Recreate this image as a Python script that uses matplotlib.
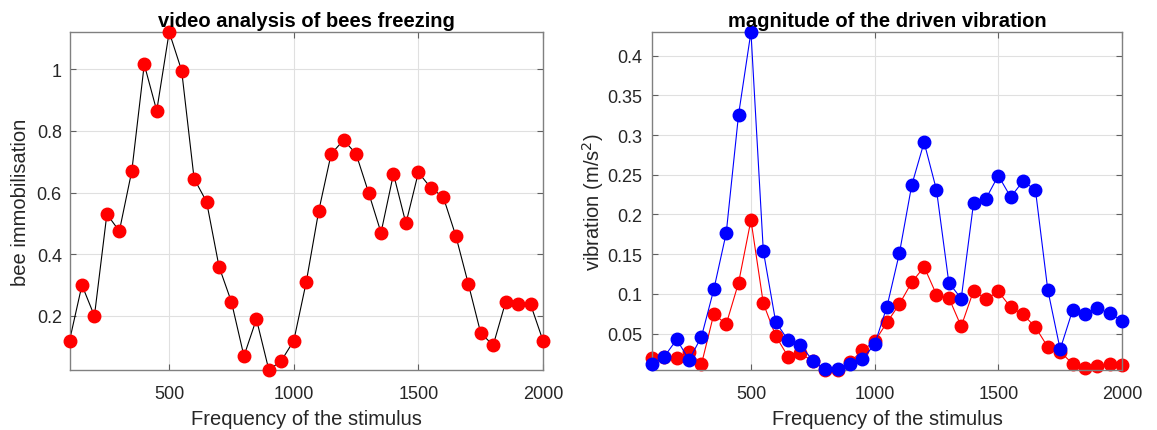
import matplotlib
matplotlib.use("Agg")
import matplotlib.pyplot as plt
import numpy as np

plt.rcParams['font.family'] = ['Liberation Sans', 'DejaVu Sans']

freq = list(range(100, 2001, 50))

immobilisation = [0.12, 0.30, 0.20, 0.53, 0.475, 0.67, 1.015, 0.865, 1.12, 0.995,
                  0.645, 0.57, 0.36, 0.245, 0.07, 0.19, 0.025, 0.055, 0.12, 0.31,
                  0.54, 0.725, 0.77, 0.725, 0.60, 0.47, 0.66, 0.50, 0.665, 0.615,
                  0.585, 0.46, 0.305, 0.145, 0.105, 0.245, 0.24, 0.238, 0.12]

vib_blue = [0.0114, 0.021, 0.0425, 0.0166, 0.046, 0.1057, 0.1765, 0.326, 0.430, 0.154,
            0.0647, 0.0416, 0.0358, 0.0157, 0.005, 0.005, 0.0114, 0.0177, 0.0362, 0.084,
            0.151, 0.237, 0.291, 0.231, 0.114, 0.094, 0.2146, 0.220, 0.249, 0.222,
            0.242, 0.231, 0.105, 0.030, 0.079, 0.074, 0.082, 0.0755, 0.066]

vib_red = [0.019, 0.020, 0.019, 0.027, 0.0114, 0.0747, 0.0617, 0.114, 0.193, 0.088,
           0.047, 0.021, 0.025, 0.015, 0.004, 0.004, 0.0136, 0.0286, 0.040, 0.064,
           0.087, 0.1145, 0.134, 0.099, 0.095, 0.059, 0.104, 0.093, 0.103, 0.083,
           0.074, 0.058, 0.033, 0.027, 0.012, 0.0064, 0.0094, 0.011, 0.010]

xticks = [500, 1000, 1500, 2000]
left_yticks = [0.2, 0.4, 0.6, 0.8, 1.0]
left_yticklabels = ['0.2', '0.4', '0.6', '0.8', '1']
right_yticks = [0.05, 0.1, 0.15, 0.2, 0.25, 0.3, 0.35, 0.4]
right_yticklabels = ['0.05', '0.1', '0.15', '0.2', '0.25', '0.3', '0.35', '0.4']

fig = plt.figure(figsize=(11.57, 4.31), dpi=100)
ax1 = fig.add_axes([69.5/1157, 1-371/431, (543-69.5)/1157, (371-33)/431])
ax2 = fig.add_axes([652/1157, 1-371/431, (1122-652)/1157, (371-33)/431])

dark = '#262626'
ms = 9

def style(ax):
    ax.grid(True, color='#e0e0e0', linewidth=0.8)
    ax.set_axisbelow(True)
    for s in ax.spines.values():
        s.set_color('#808080')
        s.set_linewidth(1.0)
    ax.tick_params(direction='in', top=True, right=True, length=4, width=0.8,
                   colors='#606060', labelcolor=dark, labelsize=13)
    ax.tick_params(axis='x', pad=11)
    ax.tick_params(axis='y', pad=5.5)
    ax.set_xlabel('Frequency of the stimulus', fontsize=14.5, color=dark, labelpad=4.5)

ax1.plot(freq, immobilisation, '-', color='black', linewidth=0.8, zorder=2)
ax1.plot(freq, immobilisation, 'o', color='red', markersize=ms, zorder=3)
ax1.set_xlim(100, 2000)
ax1.set_ylim(min(immobilisation), max(immobilisation))
ax1.set_xticks(xticks)
ax1.set_yticks(left_yticks)
ax1.set_yticklabels(left_yticklabels)
style(ax1)
ax1.set_ylabel('bee immobilisation', fontsize=14.5, color=dark, labelpad=5)
ax1.set_title('video analysis of bees freezing', fontsize=14.5, fontweight='bold', color='black', pad=4.5)

ax2.plot(freq, vib_red, '-o', color='red', markersize=ms, linewidth=0.8, zorder=2)
ax2.plot(freq, vib_blue, '-o', color='blue', markersize=ms, linewidth=0.8, zorder=3)
ax2.set_xlim(100, 2000)
ax2.set_ylim(min(vib_red + vib_blue), max(vib_red + vib_blue))
ax2.set_xticks(xticks)
ax2.set_yticks(right_yticks)
ax2.set_yticklabels(right_yticklabels)
style(ax2)
ax2.tick_params(axis='y', pad=7)
ax2.set_ylabel('vibration (m/s$^2$)', fontsize=14.5, color=dark, labelpad=1)
ax2.set_title('magnitude of the driven vibration', fontsize=14.5, fontweight='bold', color='black', pad=4.5)

for ax in (ax1, ax2):
    for l in ax.get_lines():
        l.set_clip_on(False)

fig.savefig('out.png', dpi=100)
